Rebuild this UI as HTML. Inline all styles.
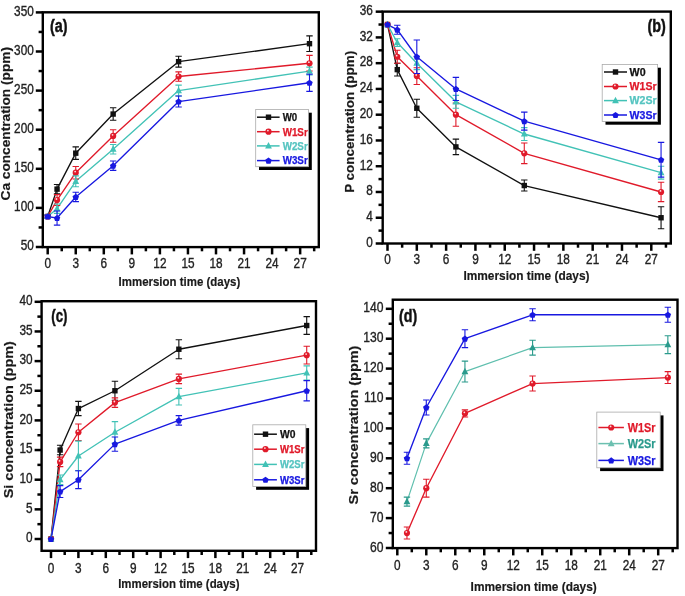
<!DOCTYPE html>
<html><head><meta charset="utf-8"><style>
html,body{margin:0;padding:0;background:#fff;}
svg{display:block;font-family:"Liberation Sans", sans-serif;filter:blur(0.3px);}
</style></head><body>
<svg width="685" height="596" viewBox="0 0 685 596">
<rect width="685" height="596" fill="#fff"/>
<polyline points="47.7,216.5 57.05,189.13 75.75,153.16 113.15,114.06 178.6,61.67 309.5,43.68" fill="none" stroke="#111111" stroke-width="1.35" stroke-linejoin="round"/>
<polyline points="47.7,216.5 57.05,200.08 75.75,172.71 113.15,135.96 178.6,76.52 309.5,63.23" fill="none" stroke="#e01a2a" stroke-width="1.35" stroke-linejoin="round"/>
<polyline points="47.7,216.5 57.05,208.68 75.75,181.31 113.15,149.25 178.6,90.6 309.5,71.05" fill="none" stroke="#42c2b6" stroke-width="1.35" stroke-linejoin="round"/>
<polyline points="47.7,216.5 57.05,218.07 75.75,196.95 113.15,165.67 178.6,101.55 309.5,82.78" fill="none" stroke="#1818e0" stroke-width="1.35" stroke-linejoin="round"/>
<path d="M47.7 214.94V218.07M44.5 214.94h6.4M44.5 218.07h6.4" stroke="#111111" stroke-width="1.1" fill="none"/>
<path d="M57.05 184.44V193.82M53.85 184.44h6.4M53.85 193.82h6.4" stroke="#111111" stroke-width="1.1" fill="none"/>
<path d="M75.75 146.9V159.42M72.55 146.9h6.4M72.55 159.42h6.4" stroke="#111111" stroke-width="1.1" fill="none"/>
<path d="M113.15 107.8V120.32M109.95 107.8h6.4M109.95 120.32h6.4" stroke="#111111" stroke-width="1.1" fill="none"/>
<path d="M178.6 56.19V67.14M175.4 56.19h6.4M175.4 67.14h6.4" stroke="#111111" stroke-width="1.1" fill="none"/>
<path d="M309.5 35.86V51.5M306.3 35.86h6.4M306.3 51.5h6.4" stroke="#111111" stroke-width="1.1" fill="none"/>
<rect x="45" y="213.8" width="5.4" height="5.4" fill="#111111"/>
<rect x="54.35" y="186.43" width="5.4" height="5.4" fill="#111111"/>
<rect x="73.05" y="150.46" width="5.4" height="5.4" fill="#111111"/>
<rect x="110.45" y="111.36" width="5.4" height="5.4" fill="#111111"/>
<rect x="175.9" y="58.97" width="5.4" height="5.4" fill="#111111"/>
<rect x="306.8" y="40.98" width="5.4" height="5.4" fill="#111111"/>
<path d="M47.7 214.94V218.07M44.5 214.94h6.4M44.5 218.07h6.4" stroke="#e01a2a" stroke-width="1.1" fill="none"/>
<path d="M57.05 194.61V205.55M53.85 194.61h6.4M53.85 205.55h6.4" stroke="#e01a2a" stroke-width="1.1" fill="none"/>
<path d="M75.75 166.45V178.97M72.55 166.45h6.4M72.55 178.97h6.4" stroke="#e01a2a" stroke-width="1.1" fill="none"/>
<path d="M113.15 129.7V142.21M109.95 129.7h6.4M109.95 142.21h6.4" stroke="#e01a2a" stroke-width="1.1" fill="none"/>
<path d="M178.6 71.83V81.22M175.4 71.83h6.4M175.4 81.22h6.4" stroke="#e01a2a" stroke-width="1.1" fill="none"/>
<path d="M309.5 55.41V71.05M306.3 55.41h6.4M306.3 71.05h6.4" stroke="#e01a2a" stroke-width="1.1" fill="none"/>
<circle cx="47.7" cy="216.5" r="3.1" fill="#e01a2a"/>
<circle cx="47.1" cy="215.4" r="0.9" fill="#fff" opacity="0.85"/>
<circle cx="57.05" cy="200.08" r="3.1" fill="#e01a2a"/>
<circle cx="56.45" cy="198.98" r="0.9" fill="#fff" opacity="0.85"/>
<circle cx="75.75" cy="172.71" r="3.1" fill="#e01a2a"/>
<circle cx="75.15" cy="171.61" r="0.9" fill="#fff" opacity="0.85"/>
<circle cx="113.15" cy="135.96" r="3.1" fill="#e01a2a"/>
<circle cx="112.55" cy="134.86" r="0.9" fill="#fff" opacity="0.85"/>
<circle cx="178.6" cy="76.52" r="3.1" fill="#e01a2a"/>
<circle cx="178" cy="75.42" r="0.9" fill="#fff" opacity="0.85"/>
<circle cx="309.5" cy="63.23" r="3.1" fill="#e01a2a"/>
<circle cx="308.9" cy="62.13" r="0.9" fill="#fff" opacity="0.85"/>
<path d="M47.7 214.94V218.07M44.5 214.94h6.4M44.5 218.07h6.4" stroke="#42c2b6" stroke-width="1.1" fill="none"/>
<path d="M57.05 203.99V213.37M53.85 203.99h6.4M53.85 213.37h6.4" stroke="#42c2b6" stroke-width="1.1" fill="none"/>
<path d="M75.75 175.84V186.79M72.55 175.84h6.4M72.55 186.79h6.4" stroke="#42c2b6" stroke-width="1.1" fill="none"/>
<path d="M113.15 144.56V153.94M109.95 144.56h6.4M109.95 153.94h6.4" stroke="#42c2b6" stroke-width="1.1" fill="none"/>
<path d="M178.6 85.13V96.07M175.4 85.13h6.4M175.4 96.07h6.4" stroke="#42c2b6" stroke-width="1.1" fill="none"/>
<path d="M309.5 67.14V74.96M306.3 67.14h6.4M306.3 74.96h6.4" stroke="#42c2b6" stroke-width="1.1" fill="none"/>
<polygon points="47.7,212.6 51.1,219.1 44.3,219.1" fill="#42c2b6"/>
<polygon points="57.05,204.78 60.45,211.28 53.65,211.28" fill="#42c2b6"/>
<polygon points="75.75,177.41 79.15,183.91 72.35,183.91" fill="#42c2b6"/>
<polygon points="113.15,145.35 116.55,151.85 109.75,151.85" fill="#42c2b6"/>
<polygon points="178.6,86.7 182,93.2 175.2,93.2" fill="#42c2b6"/>
<polygon points="309.5,67.15 312.9,73.65 306.1,73.65" fill="#42c2b6"/>
<path d="M47.7 214.94V218.07M44.5 214.94h6.4M44.5 218.07h6.4" stroke="#1818e0" stroke-width="1.1" fill="none"/>
<path d="M57.05 211.03V225.1M53.85 211.03h6.4M53.85 225.1h6.4" stroke="#1818e0" stroke-width="1.1" fill="none"/>
<path d="M75.75 192.26V201.64M72.55 192.26h6.4M72.55 201.64h6.4" stroke="#1818e0" stroke-width="1.1" fill="none"/>
<path d="M113.15 160.98V170.36M109.95 160.98h6.4M109.95 170.36h6.4" stroke="#1818e0" stroke-width="1.1" fill="none"/>
<path d="M178.6 96.07V107.02M175.4 96.07h6.4M175.4 107.02h6.4" stroke="#1818e0" stroke-width="1.1" fill="none"/>
<path d="M309.5 74.18V91.38M306.3 74.18h6.4M306.3 91.38h6.4" stroke="#1818e0" stroke-width="1.1" fill="none"/>
<polygon points="47.7,213.4 50.93,215.75 49.7,219.55 45.7,219.55 44.47,215.75" fill="#1818e0"/>
<polygon points="57.05,214.97 60.28,217.32 59.05,221.12 55.05,221.12 53.82,217.32" fill="#1818e0"/>
<polygon points="75.75,193.85 78.98,196.2 77.75,200 73.75,200 72.52,196.2" fill="#1818e0"/>
<polygon points="113.15,162.57 116.38,164.92 115.15,168.72 111.15,168.72 109.92,164.92" fill="#1818e0"/>
<polygon points="178.6,98.45 181.83,100.8 180.6,104.6 176.6,104.6 175.37,100.8" fill="#1818e0"/>
<polygon points="309.5,79.68 312.73,82.03 311.5,85.83 307.5,85.83 306.27,82.03" fill="#1818e0"/>
<rect x="42.8" y="12.3" width="276" height="234.8" fill="none" stroke="#000" stroke-width="2.4"/>
<line x1="47.7" y1="247.1" x2="47.7" y2="254.4" stroke="#000" stroke-width="2.5"/>
<text transform="translate(47.7,268.2) scale(0.82,1)" font-size="14.4" font-weight="normal" fill="#222" text-anchor="middle" stroke="#222" stroke-width="0.35">0</text>
<line x1="61.73" y1="247.1" x2="61.73" y2="251.3" stroke="#000" stroke-width="2.5"/>
<line x1="75.75" y1="247.1" x2="75.75" y2="254.4" stroke="#000" stroke-width="2.5"/>
<text transform="translate(75.75,268.2) scale(0.82,1)" font-size="14.4" font-weight="normal" fill="#222" text-anchor="middle" stroke="#222" stroke-width="0.35">3</text>
<line x1="89.78" y1="247.1" x2="89.78" y2="251.3" stroke="#000" stroke-width="2.5"/>
<line x1="103.8" y1="247.1" x2="103.8" y2="254.4" stroke="#000" stroke-width="2.5"/>
<text transform="translate(103.8,268.2) scale(0.82,1)" font-size="14.4" font-weight="normal" fill="#222" text-anchor="middle" stroke="#222" stroke-width="0.35">6</text>
<line x1="117.83" y1="247.1" x2="117.83" y2="251.3" stroke="#000" stroke-width="2.5"/>
<line x1="131.85" y1="247.1" x2="131.85" y2="254.4" stroke="#000" stroke-width="2.5"/>
<text transform="translate(131.85,268.2) scale(0.82,1)" font-size="14.4" font-weight="normal" fill="#222" text-anchor="middle" stroke="#222" stroke-width="0.35">9</text>
<line x1="145.88" y1="247.1" x2="145.88" y2="251.3" stroke="#000" stroke-width="2.5"/>
<line x1="159.9" y1="247.1" x2="159.9" y2="254.4" stroke="#000" stroke-width="2.5"/>
<text transform="translate(159.9,268.2) scale(0.82,1)" font-size="14.4" font-weight="normal" fill="#222" text-anchor="middle" stroke="#222" stroke-width="0.35">12</text>
<line x1="173.93" y1="247.1" x2="173.93" y2="251.3" stroke="#000" stroke-width="2.5"/>
<line x1="187.95" y1="247.1" x2="187.95" y2="254.4" stroke="#000" stroke-width="2.5"/>
<text transform="translate(187.95,268.2) scale(0.82,1)" font-size="14.4" font-weight="normal" fill="#222" text-anchor="middle" stroke="#222" stroke-width="0.35">15</text>
<line x1="201.98" y1="247.1" x2="201.98" y2="251.3" stroke="#000" stroke-width="2.5"/>
<line x1="216" y1="247.1" x2="216" y2="254.4" stroke="#000" stroke-width="2.5"/>
<text transform="translate(216,268.2) scale(0.82,1)" font-size="14.4" font-weight="normal" fill="#222" text-anchor="middle" stroke="#222" stroke-width="0.35">18</text>
<line x1="230.02" y1="247.1" x2="230.02" y2="251.3" stroke="#000" stroke-width="2.5"/>
<line x1="244.05" y1="247.1" x2="244.05" y2="254.4" stroke="#000" stroke-width="2.5"/>
<text transform="translate(244.05,268.2) scale(0.82,1)" font-size="14.4" font-weight="normal" fill="#222" text-anchor="middle" stroke="#222" stroke-width="0.35">21</text>
<line x1="258.07" y1="247.1" x2="258.07" y2="251.3" stroke="#000" stroke-width="2.5"/>
<line x1="272.1" y1="247.1" x2="272.1" y2="254.4" stroke="#000" stroke-width="2.5"/>
<text transform="translate(272.1,268.2) scale(0.82,1)" font-size="14.4" font-weight="normal" fill="#222" text-anchor="middle" stroke="#222" stroke-width="0.35">24</text>
<line x1="286.12" y1="247.1" x2="286.12" y2="251.3" stroke="#000" stroke-width="2.5"/>
<line x1="300.15" y1="247.1" x2="300.15" y2="254.4" stroke="#000" stroke-width="2.5"/>
<text transform="translate(300.15,268.2) scale(0.82,1)" font-size="14.4" font-weight="normal" fill="#222" text-anchor="middle" stroke="#222" stroke-width="0.35">27</text>
<line x1="314.17" y1="247.1" x2="314.17" y2="251.3" stroke="#000" stroke-width="2.5"/>
<line x1="35.8" y1="247" x2="42.8" y2="247" stroke="#000" stroke-width="2.5"/>
<text transform="translate(33.8,250.3) scale(0.82,1)" font-size="14.4" font-weight="normal" fill="#222" text-anchor="end" stroke="#222" stroke-width="0.35">50</text>
<line x1="38.6" y1="227.45" x2="42.8" y2="227.45" stroke="#000" stroke-width="2.5"/>
<line x1="35.8" y1="207.9" x2="42.8" y2="207.9" stroke="#000" stroke-width="2.5"/>
<text transform="translate(33.8,211.2) scale(0.82,1)" font-size="14.4" font-weight="normal" fill="#222" text-anchor="end" stroke="#222" stroke-width="0.35">100</text>
<line x1="38.6" y1="188.35" x2="42.8" y2="188.35" stroke="#000" stroke-width="2.5"/>
<line x1="35.8" y1="168.8" x2="42.8" y2="168.8" stroke="#000" stroke-width="2.5"/>
<text transform="translate(33.8,172.1) scale(0.82,1)" font-size="14.4" font-weight="normal" fill="#222" text-anchor="end" stroke="#222" stroke-width="0.35">150</text>
<line x1="38.6" y1="149.25" x2="42.8" y2="149.25" stroke="#000" stroke-width="2.5"/>
<line x1="35.8" y1="129.7" x2="42.8" y2="129.7" stroke="#000" stroke-width="2.5"/>
<text transform="translate(33.8,133) scale(0.82,1)" font-size="14.4" font-weight="normal" fill="#222" text-anchor="end" stroke="#222" stroke-width="0.35">200</text>
<line x1="38.6" y1="110.15" x2="42.8" y2="110.15" stroke="#000" stroke-width="2.5"/>
<line x1="35.8" y1="90.6" x2="42.8" y2="90.6" stroke="#000" stroke-width="2.5"/>
<text transform="translate(33.8,93.9) scale(0.82,1)" font-size="14.4" font-weight="normal" fill="#222" text-anchor="end" stroke="#222" stroke-width="0.35">250</text>
<line x1="38.6" y1="71.05" x2="42.8" y2="71.05" stroke="#000" stroke-width="2.5"/>
<line x1="35.8" y1="51.5" x2="42.8" y2="51.5" stroke="#000" stroke-width="2.5"/>
<text transform="translate(33.8,54.8) scale(0.82,1)" font-size="14.4" font-weight="normal" fill="#222" text-anchor="end" stroke="#222" stroke-width="0.35">300</text>
<line x1="38.6" y1="31.95" x2="42.8" y2="31.95" stroke="#000" stroke-width="2.5"/>
<line x1="35.8" y1="12.4" x2="42.8" y2="12.4" stroke="#000" stroke-width="2.5"/>
<text transform="translate(33.8,15.7) scale(0.82,1)" font-size="14.4" font-weight="normal" fill="#222" text-anchor="end" stroke="#222" stroke-width="0.35">350</text>
<text transform="translate(118.6,286.4) scale(1,1)" font-size="13.6" font-weight="bold" fill="#1a1a1a" text-anchor="start" textLength="121.6" lengthAdjust="spacingAndGlyphs" stroke="#1a1a1a" stroke-width="0.2">Immersion time (days)</text>
<text transform="translate(10.3,200.5) scale(0.88,1) rotate(-90)" font-size="13.6" font-weight="bold" fill="#1a1a1a" text-anchor="start" textLength="153.5" lengthAdjust="spacingAndGlyphs" stroke="#1a1a1a" stroke-width="0.2">Ca concentration (ppm)</text>
<text transform="translate(49.9,31.8) scale(1,1)" font-size="18" font-weight="bold" fill="#111" text-anchor="start" textLength="17.5" lengthAdjust="spacingAndGlyphs" stroke="#111" stroke-width="0.45">(a)</text>
<rect x="259" y="112.7" width="52.8" height="57.3" fill="#000"/>
<rect x="255.7" y="109.4" width="52.8" height="57.3" fill="#fff" stroke="#aaa" stroke-width="0.8"/>
<line x1="257" y1="117.2" x2="279.6" y2="117.2" stroke="#111111" stroke-width="1.5"/>
<rect x="265.8" y="114.5" width="5.4" height="5.4" fill="#111111"/>
<text transform="translate(282.7,121) scale(1,1)" font-size="10.5" font-weight="bold" fill="#111111" text-anchor="start" textLength="14.5" lengthAdjust="spacingAndGlyphs" stroke="#111111" stroke-width="0.25">W0</text>
<line x1="257" y1="131.7" x2="279.6" y2="131.7" stroke="#e01a2a" stroke-width="1.5"/>
<circle cx="268.5" cy="131.7" r="3.1" fill="#e01a2a"/>
<circle cx="267.9" cy="130.6" r="0.9" fill="#fff" opacity="0.85"/>
<text transform="translate(282.7,135.5) scale(1,1)" font-size="10.5" font-weight="bold" fill="#e01a2a" text-anchor="start" textLength="25" lengthAdjust="spacingAndGlyphs" stroke="#e01a2a" stroke-width="0.25">W1Sr</text>
<line x1="257" y1="145.9" x2="279.6" y2="145.9" stroke="#42c2b6" stroke-width="1.5"/>
<polygon points="268.5,142 271.9,148.5 265.1,148.5" fill="#42c2b6"/>
<text transform="translate(282.7,149.7) scale(1,1)" font-size="10.5" font-weight="bold" fill="#55c4c0" text-anchor="start" textLength="25" lengthAdjust="spacingAndGlyphs" stroke="#55c4c0" stroke-width="0.25">W2Sr</text>
<line x1="257" y1="160.6" x2="279.6" y2="160.6" stroke="#1818e0" stroke-width="1.5"/>
<polygon points="268.5,157.5 271.73,159.85 270.5,163.65 266.5,163.65 265.27,159.85" fill="#1818e0"/>
<text transform="translate(282.7,164.4) scale(1,1)" font-size="10.5" font-weight="bold" fill="#1818e0" text-anchor="start" textLength="25" lengthAdjust="spacingAndGlyphs" stroke="#1818e0" stroke-width="0.25">W3Sr</text>
<polyline points="387.5,24.54 397.27,69.62 416.81,108.26 455.89,146.9 524.28,185.54 661.06,217.74" fill="none" stroke="#111111" stroke-width="1.35" stroke-linejoin="round"/>
<polyline points="387.5,24.54 397.27,56.74 416.81,76.06 455.89,114.7 524.28,153.34 661.06,191.98" fill="none" stroke="#e01a2a" stroke-width="1.35" stroke-linejoin="round"/>
<polyline points="387.5,24.54 397.27,42.57 416.81,63.18 455.89,101.82 524.28,134.02 661.06,172.66" fill="none" stroke="#42c2b6" stroke-width="1.35" stroke-linejoin="round"/>
<polyline points="387.5,24.54 397.27,29.69 416.81,56.74 455.89,88.94 524.28,121.14 661.06,159.78" fill="none" stroke="#1818e0" stroke-width="1.35" stroke-linejoin="round"/>
<path d="M397.27 63.18V76.06M394.07 63.18h6.4M394.07 76.06h6.4" stroke="#111111" stroke-width="1.1" fill="none"/>
<path d="M416.81 99.24V117.28M413.61 99.24h6.4M413.61 117.28h6.4" stroke="#111111" stroke-width="1.1" fill="none"/>
<path d="M455.89 139.17V154.63M452.69 139.17h6.4M452.69 154.63h6.4" stroke="#111111" stroke-width="1.1" fill="none"/>
<path d="M524.28 180.07V191.01M521.08 180.07h6.4M521.08 191.01h6.4" stroke="#111111" stroke-width="1.1" fill="none"/>
<path d="M661.06 206.79V228.69M657.86 206.79h6.4M657.86 228.69h6.4" stroke="#111111" stroke-width="1.1" fill="none"/>
<rect x="384.8" y="21.84" width="5.4" height="5.4" fill="#111111"/>
<rect x="394.57" y="66.92" width="5.4" height="5.4" fill="#111111"/>
<rect x="414.11" y="105.56" width="5.4" height="5.4" fill="#111111"/>
<rect x="453.19" y="144.2" width="5.4" height="5.4" fill="#111111"/>
<rect x="521.58" y="182.84" width="5.4" height="5.4" fill="#111111"/>
<rect x="658.36" y="215.04" width="5.4" height="5.4" fill="#111111"/>
<path d="M397.27 50.3V63.18M394.07 50.3h6.4M394.07 63.18h6.4" stroke="#e01a2a" stroke-width="1.1" fill="none"/>
<path d="M416.81 67.69V84.43M413.61 67.69h6.4M413.61 84.43h6.4" stroke="#e01a2a" stroke-width="1.1" fill="none"/>
<path d="M455.89 103.11V126.29M452.69 103.11h6.4M452.69 126.29h6.4" stroke="#e01a2a" stroke-width="1.1" fill="none"/>
<path d="M524.28 143.04V163.64M521.08 143.04h6.4M521.08 163.64h6.4" stroke="#e01a2a" stroke-width="1.1" fill="none"/>
<path d="M661.06 182.32V201.64M657.86 182.32h6.4M657.86 201.64h6.4" stroke="#e01a2a" stroke-width="1.1" fill="none"/>
<circle cx="387.5" cy="24.54" r="3.1" fill="#e01a2a"/>
<circle cx="386.9" cy="23.44" r="0.9" fill="#fff" opacity="0.85"/>
<circle cx="397.27" cy="56.74" r="3.1" fill="#e01a2a"/>
<circle cx="396.67" cy="55.64" r="0.9" fill="#fff" opacity="0.85"/>
<circle cx="416.81" cy="76.06" r="3.1" fill="#e01a2a"/>
<circle cx="416.21" cy="74.96" r="0.9" fill="#fff" opacity="0.85"/>
<circle cx="455.89" cy="114.7" r="3.1" fill="#e01a2a"/>
<circle cx="455.29" cy="113.6" r="0.9" fill="#fff" opacity="0.85"/>
<circle cx="524.28" cy="153.34" r="3.1" fill="#e01a2a"/>
<circle cx="523.68" cy="152.24" r="0.9" fill="#fff" opacity="0.85"/>
<circle cx="661.06" cy="191.98" r="3.1" fill="#e01a2a"/>
<circle cx="660.46" cy="190.88" r="0.9" fill="#fff" opacity="0.85"/>
<path d="M397.27 38.71V46.44M394.07 38.71h6.4M394.07 46.44h6.4" stroke="#42c2b6" stroke-width="1.1" fill="none"/>
<path d="M416.81 56.74V69.62M413.61 56.74h6.4M413.61 69.62h6.4" stroke="#42c2b6" stroke-width="1.1" fill="none"/>
<path d="M455.89 95.38V108.26M452.69 95.38h6.4M452.69 108.26h6.4" stroke="#42c2b6" stroke-width="1.1" fill="none"/>
<path d="M524.28 127.58V140.46M521.08 127.58h6.4M521.08 140.46h6.4" stroke="#42c2b6" stroke-width="1.1" fill="none"/>
<path d="M661.06 166.22V179.1M657.86 166.22h6.4M657.86 179.1h6.4" stroke="#42c2b6" stroke-width="1.1" fill="none"/>
<polygon points="387.5,20.64 390.9,27.14 384.1,27.14" fill="#42c2b6"/>
<polygon points="397.27,38.67 400.67,45.17 393.87,45.17" fill="#42c2b6"/>
<polygon points="416.81,59.28 420.21,65.78 413.41,65.78" fill="#42c2b6"/>
<polygon points="455.89,97.92 459.29,104.42 452.49,104.42" fill="#42c2b6"/>
<polygon points="524.28,130.12 527.68,136.62 520.88,136.62" fill="#42c2b6"/>
<polygon points="661.06,168.76 664.46,175.26 657.66,175.26" fill="#42c2b6"/>
<path d="M397.27 25.18V34.2M394.07 25.18h6.4M394.07 34.2h6.4" stroke="#1818e0" stroke-width="1.1" fill="none"/>
<path d="M416.81 40V73.48M413.61 40h6.4M413.61 73.48h6.4" stroke="#1818e0" stroke-width="1.1" fill="none"/>
<path d="M455.89 77.35V100.53M452.69 77.35h6.4M452.69 100.53h6.4" stroke="#1818e0" stroke-width="1.1" fill="none"/>
<path d="M524.28 112.12V130.16M521.08 112.12h6.4M521.08 130.16h6.4" stroke="#1818e0" stroke-width="1.1" fill="none"/>
<path d="M661.06 142.39V177.17M657.86 142.39h6.4M657.86 177.17h6.4" stroke="#1818e0" stroke-width="1.1" fill="none"/>
<polygon points="387.5,21.44 390.73,23.79 389.5,27.59 385.5,27.59 384.27,23.79" fill="#1818e0"/>
<polygon points="397.27,26.59 400.5,28.94 399.27,32.74 395.27,32.74 394.04,28.94" fill="#1818e0"/>
<polygon points="416.81,53.64 420.04,55.99 418.81,59.79 414.81,59.79 413.58,55.99" fill="#1818e0"/>
<polygon points="455.89,85.84 459.12,88.19 457.89,91.99 453.89,91.99 452.66,88.19" fill="#1818e0"/>
<polygon points="524.28,118.04 527.51,120.39 526.28,124.19 522.28,124.19 521.05,120.39" fill="#1818e0"/>
<polygon points="661.06,156.68 664.29,159.03 663.06,162.83 659.06,162.83 657.83,159.03" fill="#1818e0"/>
<rect x="382.7" y="11.6" width="288.1" height="231.9" fill="none" stroke="#000" stroke-width="2.4"/>
<line x1="387.5" y1="243.5" x2="387.5" y2="250.8" stroke="#000" stroke-width="2.5"/>
<text transform="translate(387.5,264) scale(0.82,1)" font-size="14.4" font-weight="normal" fill="#222" text-anchor="middle" stroke="#222" stroke-width="0.35">0</text>
<line x1="402.15" y1="243.5" x2="402.15" y2="247.7" stroke="#000" stroke-width="2.5"/>
<line x1="416.81" y1="243.5" x2="416.81" y2="250.8" stroke="#000" stroke-width="2.5"/>
<text transform="translate(416.81,264) scale(0.82,1)" font-size="14.4" font-weight="normal" fill="#222" text-anchor="middle" stroke="#222" stroke-width="0.35">3</text>
<line x1="431.46" y1="243.5" x2="431.46" y2="247.7" stroke="#000" stroke-width="2.5"/>
<line x1="446.12" y1="243.5" x2="446.12" y2="250.8" stroke="#000" stroke-width="2.5"/>
<text transform="translate(446.12,264) scale(0.82,1)" font-size="14.4" font-weight="normal" fill="#222" text-anchor="middle" stroke="#222" stroke-width="0.35">6</text>
<line x1="460.77" y1="243.5" x2="460.77" y2="247.7" stroke="#000" stroke-width="2.5"/>
<line x1="475.43" y1="243.5" x2="475.43" y2="250.8" stroke="#000" stroke-width="2.5"/>
<text transform="translate(475.43,264) scale(0.82,1)" font-size="14.4" font-weight="normal" fill="#222" text-anchor="middle" stroke="#222" stroke-width="0.35">9</text>
<line x1="490.08" y1="243.5" x2="490.08" y2="247.7" stroke="#000" stroke-width="2.5"/>
<line x1="504.74" y1="243.5" x2="504.74" y2="250.8" stroke="#000" stroke-width="2.5"/>
<text transform="translate(504.74,264) scale(0.82,1)" font-size="14.4" font-weight="normal" fill="#222" text-anchor="middle" stroke="#222" stroke-width="0.35">12</text>
<line x1="519.39" y1="243.5" x2="519.39" y2="247.7" stroke="#000" stroke-width="2.5"/>
<line x1="534.05" y1="243.5" x2="534.05" y2="250.8" stroke="#000" stroke-width="2.5"/>
<text transform="translate(534.05,264) scale(0.82,1)" font-size="14.4" font-weight="normal" fill="#222" text-anchor="middle" stroke="#222" stroke-width="0.35">15</text>
<line x1="548.7" y1="243.5" x2="548.7" y2="247.7" stroke="#000" stroke-width="2.5"/>
<line x1="563.36" y1="243.5" x2="563.36" y2="250.8" stroke="#000" stroke-width="2.5"/>
<text transform="translate(563.36,264) scale(0.82,1)" font-size="14.4" font-weight="normal" fill="#222" text-anchor="middle" stroke="#222" stroke-width="0.35">18</text>
<line x1="578.01" y1="243.5" x2="578.01" y2="247.7" stroke="#000" stroke-width="2.5"/>
<line x1="592.67" y1="243.5" x2="592.67" y2="250.8" stroke="#000" stroke-width="2.5"/>
<text transform="translate(592.67,264) scale(0.82,1)" font-size="14.4" font-weight="normal" fill="#222" text-anchor="middle" stroke="#222" stroke-width="0.35">21</text>
<line x1="607.33" y1="243.5" x2="607.33" y2="247.7" stroke="#000" stroke-width="2.5"/>
<line x1="621.98" y1="243.5" x2="621.98" y2="250.8" stroke="#000" stroke-width="2.5"/>
<text transform="translate(621.98,264) scale(0.82,1)" font-size="14.4" font-weight="normal" fill="#222" text-anchor="middle" stroke="#222" stroke-width="0.35">24</text>
<line x1="636.63" y1="243.5" x2="636.63" y2="247.7" stroke="#000" stroke-width="2.5"/>
<line x1="651.29" y1="243.5" x2="651.29" y2="250.8" stroke="#000" stroke-width="2.5"/>
<text transform="translate(651.29,264) scale(0.82,1)" font-size="14.4" font-weight="normal" fill="#222" text-anchor="middle" stroke="#222" stroke-width="0.35">27</text>
<line x1="665.94" y1="243.5" x2="665.94" y2="247.7" stroke="#000" stroke-width="2.5"/>
<line x1="375.7" y1="243.5" x2="382.7" y2="243.5" stroke="#000" stroke-width="2.5"/>
<text transform="translate(372.9,246.8) scale(0.82,1)" font-size="14.4" font-weight="normal" fill="#222" text-anchor="end" stroke="#222" stroke-width="0.35">0</text>
<line x1="378.5" y1="230.62" x2="382.7" y2="230.62" stroke="#000" stroke-width="2.5"/>
<line x1="375.7" y1="217.74" x2="382.7" y2="217.74" stroke="#000" stroke-width="2.5"/>
<text transform="translate(372.9,221.04) scale(0.82,1)" font-size="14.4" font-weight="normal" fill="#222" text-anchor="end" stroke="#222" stroke-width="0.35">4</text>
<line x1="378.5" y1="204.86" x2="382.7" y2="204.86" stroke="#000" stroke-width="2.5"/>
<line x1="375.7" y1="191.98" x2="382.7" y2="191.98" stroke="#000" stroke-width="2.5"/>
<text transform="translate(372.9,195.28) scale(0.82,1)" font-size="14.4" font-weight="normal" fill="#222" text-anchor="end" stroke="#222" stroke-width="0.35">8</text>
<line x1="378.5" y1="179.1" x2="382.7" y2="179.1" stroke="#000" stroke-width="2.5"/>
<line x1="375.7" y1="166.22" x2="382.7" y2="166.22" stroke="#000" stroke-width="2.5"/>
<text transform="translate(372.9,169.52) scale(0.82,1)" font-size="14.4" font-weight="normal" fill="#222" text-anchor="end" stroke="#222" stroke-width="0.35">12</text>
<line x1="378.5" y1="153.34" x2="382.7" y2="153.34" stroke="#000" stroke-width="2.5"/>
<line x1="375.7" y1="140.46" x2="382.7" y2="140.46" stroke="#000" stroke-width="2.5"/>
<text transform="translate(372.9,143.76) scale(0.82,1)" font-size="14.4" font-weight="normal" fill="#222" text-anchor="end" stroke="#222" stroke-width="0.35">16</text>
<line x1="378.5" y1="127.58" x2="382.7" y2="127.58" stroke="#000" stroke-width="2.5"/>
<line x1="375.7" y1="114.7" x2="382.7" y2="114.7" stroke="#000" stroke-width="2.5"/>
<text transform="translate(372.9,118) scale(0.82,1)" font-size="14.4" font-weight="normal" fill="#222" text-anchor="end" stroke="#222" stroke-width="0.35">20</text>
<line x1="378.5" y1="101.82" x2="382.7" y2="101.82" stroke="#000" stroke-width="2.5"/>
<line x1="375.7" y1="88.94" x2="382.7" y2="88.94" stroke="#000" stroke-width="2.5"/>
<text transform="translate(372.9,92.24) scale(0.82,1)" font-size="14.4" font-weight="normal" fill="#222" text-anchor="end" stroke="#222" stroke-width="0.35">24</text>
<line x1="378.5" y1="76.06" x2="382.7" y2="76.06" stroke="#000" stroke-width="2.5"/>
<line x1="375.7" y1="63.18" x2="382.7" y2="63.18" stroke="#000" stroke-width="2.5"/>
<text transform="translate(372.9,66.48) scale(0.82,1)" font-size="14.4" font-weight="normal" fill="#222" text-anchor="end" stroke="#222" stroke-width="0.35">28</text>
<line x1="378.5" y1="50.3" x2="382.7" y2="50.3" stroke="#000" stroke-width="2.5"/>
<line x1="375.7" y1="37.42" x2="382.7" y2="37.42" stroke="#000" stroke-width="2.5"/>
<text transform="translate(372.9,40.72) scale(0.82,1)" font-size="14.4" font-weight="normal" fill="#222" text-anchor="end" stroke="#222" stroke-width="0.35">32</text>
<line x1="378.5" y1="24.54" x2="382.7" y2="24.54" stroke="#000" stroke-width="2.5"/>
<line x1="375.7" y1="11.66" x2="382.7" y2="11.66" stroke="#000" stroke-width="2.5"/>
<text transform="translate(372.9,14.96) scale(0.82,1)" font-size="14.4" font-weight="normal" fill="#222" text-anchor="end" stroke="#222" stroke-width="0.35">36</text>
<text transform="translate(463.4,279.9) scale(1,1)" font-size="13.6" font-weight="bold" fill="#1a1a1a" text-anchor="start" textLength="126.1" lengthAdjust="spacingAndGlyphs" stroke="#1a1a1a" stroke-width="0.2">Immersion time (days)</text>
<text transform="translate(353.6,192.8) scale(0.88,1) rotate(-90)" font-size="13.6" font-weight="bold" fill="#1a1a1a" text-anchor="start" textLength="141.9" lengthAdjust="spacingAndGlyphs" stroke="#1a1a1a" stroke-width="0.2">P concentration (ppm)</text>
<text transform="translate(647.4,32.4) scale(1,1)" font-size="18" font-weight="bold" fill="#111" text-anchor="start" textLength="18.4" lengthAdjust="spacingAndGlyphs" stroke="#111" stroke-width="0.45">(b)</text>
<rect x="605.5" y="67.7" width="55.4" height="57" fill="#000"/>
<rect x="602.2" y="64.4" width="55.4" height="57" fill="#fff" stroke="#aaa" stroke-width="0.8"/>
<line x1="604" y1="72" x2="627" y2="72" stroke="#111111" stroke-width="1.5"/>
<rect x="612.8" y="69.3" width="5.4" height="5.4" fill="#111111"/>
<text transform="translate(629.6,75.8) scale(1,1)" font-size="10.5" font-weight="bold" fill="#111111" text-anchor="start" textLength="16" lengthAdjust="spacingAndGlyphs" stroke="#111111" stroke-width="0.25">W0</text>
<line x1="604" y1="86.5" x2="627" y2="86.5" stroke="#e01a2a" stroke-width="1.5"/>
<circle cx="615.5" cy="86.5" r="3.1" fill="#e01a2a"/>
<circle cx="614.9" cy="85.4" r="0.9" fill="#fff" opacity="0.85"/>
<text transform="translate(629.6,90.3) scale(1,1)" font-size="10.5" font-weight="bold" fill="#e01a2a" text-anchor="start" textLength="27" lengthAdjust="spacingAndGlyphs" stroke="#e01a2a" stroke-width="0.25">W1Sr</text>
<line x1="604" y1="100.6" x2="627" y2="100.6" stroke="#42c2b6" stroke-width="1.5"/>
<polygon points="615.5,96.7 618.9,103.2 612.1,103.2" fill="#42c2b6"/>
<text transform="translate(629.6,104.4) scale(1,1)" font-size="10.5" font-weight="bold" fill="#55c4c0" text-anchor="start" textLength="27" lengthAdjust="spacingAndGlyphs" stroke="#55c4c0" stroke-width="0.25">W2Sr</text>
<line x1="604" y1="115" x2="627" y2="115" stroke="#1818e0" stroke-width="1.5"/>
<polygon points="615.5,111.9 618.73,114.25 617.5,118.05 613.5,118.05 612.27,114.25" fill="#1818e0"/>
<text transform="translate(629.6,118.8) scale(1,1)" font-size="10.5" font-weight="bold" fill="#1818e0" text-anchor="start" textLength="27" lengthAdjust="spacingAndGlyphs" stroke="#1818e0" stroke-width="0.25">W3Sr</text>
<polyline points="51,539 60.13,450.05 78.4,408.54 114.93,390.75 178.86,349.24 306.72,325.52" fill="none" stroke="#111111" stroke-width="1.35" stroke-linejoin="round"/>
<polyline points="51,539 60.13,461.91 78.4,432.26 114.93,402.61 178.86,378.89 306.72,355.17" fill="none" stroke="#e01a2a" stroke-width="1.35" stroke-linejoin="round"/>
<polyline points="51,539 60.13,479.7 78.4,455.98 114.93,432.26 178.86,396.68 306.72,372.96" fill="none" stroke="#42c2b6" stroke-width="1.35" stroke-linejoin="round"/>
<polyline points="51,539 60.13,491.56 78.4,479.7 114.93,444.12 178.86,420.4 306.72,390.75" fill="none" stroke="#1818e0" stroke-width="1.35" stroke-linejoin="round"/>
<path d="M60.13 445.31V454.79M56.93 445.31h6.4M56.93 454.79h6.4" stroke="#111111" stroke-width="1.1" fill="none"/>
<path d="M78.4 401.42V415.66M75.2 401.42h6.4M75.2 415.66h6.4" stroke="#111111" stroke-width="1.1" fill="none"/>
<path d="M114.93 381.26V400.24M111.73 381.26h6.4M111.73 400.24h6.4" stroke="#111111" stroke-width="1.1" fill="none"/>
<path d="M178.86 339.75V358.73M175.66 339.75h6.4M175.66 358.73h6.4" stroke="#111111" stroke-width="1.1" fill="none"/>
<path d="M306.72 316.62V334.42M303.52 316.62h6.4M303.52 334.42h6.4" stroke="#111111" stroke-width="1.1" fill="none"/>
<rect x="48.3" y="536.3" width="5.4" height="5.4" fill="#111111"/>
<rect x="57.43" y="447.35" width="5.4" height="5.4" fill="#111111"/>
<rect x="75.7" y="405.84" width="5.4" height="5.4" fill="#111111"/>
<rect x="112.23" y="388.05" width="5.4" height="5.4" fill="#111111"/>
<rect x="176.16" y="346.54" width="5.4" height="5.4" fill="#111111"/>
<rect x="304.02" y="322.82" width="5.4" height="5.4" fill="#111111"/>
<path d="M60.13 457.17V466.65M56.93 457.17h6.4M56.93 466.65h6.4" stroke="#e01a2a" stroke-width="1.1" fill="none"/>
<path d="M78.4 423.96V440.56M75.2 423.96h6.4M75.2 440.56h6.4" stroke="#e01a2a" stroke-width="1.1" fill="none"/>
<path d="M114.93 397.87V407.35M111.73 397.87h6.4M111.73 407.35h6.4" stroke="#e01a2a" stroke-width="1.1" fill="none"/>
<path d="M178.86 374.15V383.63M175.66 374.15h6.4M175.66 383.63h6.4" stroke="#e01a2a" stroke-width="1.1" fill="none"/>
<path d="M306.72 346.27V364.06M303.52 346.27h6.4M303.52 364.06h6.4" stroke="#e01a2a" stroke-width="1.1" fill="none"/>
<circle cx="51" cy="539" r="3.1" fill="#e01a2a"/>
<circle cx="50.4" cy="537.9" r="0.9" fill="#fff" opacity="0.85"/>
<circle cx="60.13" cy="461.91" r="3.1" fill="#e01a2a"/>
<circle cx="59.53" cy="460.81" r="0.9" fill="#fff" opacity="0.85"/>
<circle cx="78.4" cy="432.26" r="3.1" fill="#e01a2a"/>
<circle cx="77.8" cy="431.16" r="0.9" fill="#fff" opacity="0.85"/>
<circle cx="114.93" cy="402.61" r="3.1" fill="#e01a2a"/>
<circle cx="114.33" cy="401.51" r="0.9" fill="#fff" opacity="0.85"/>
<circle cx="178.86" cy="378.89" r="3.1" fill="#e01a2a"/>
<circle cx="178.26" cy="377.79" r="0.9" fill="#fff" opacity="0.85"/>
<circle cx="306.72" cy="355.17" r="3.1" fill="#e01a2a"/>
<circle cx="306.12" cy="354.07" r="0.9" fill="#fff" opacity="0.85"/>
<path d="M60.13 474.96V484.44M56.93 474.96h6.4M56.93 484.44h6.4" stroke="#42c2b6" stroke-width="1.1" fill="none"/>
<path d="M78.4 441.15V470.81M75.2 441.15h6.4M75.2 470.81h6.4" stroke="#42c2b6" stroke-width="1.1" fill="none"/>
<path d="M114.93 421.59V442.93M111.73 421.59h6.4M111.73 442.93h6.4" stroke="#42c2b6" stroke-width="1.1" fill="none"/>
<path d="M178.86 388.38V404.98M175.66 388.38h6.4M175.66 404.98h6.4" stroke="#42c2b6" stroke-width="1.1" fill="none"/>
<path d="M306.72 365.84V380.08M303.52 365.84h6.4M303.52 380.08h6.4" stroke="#42c2b6" stroke-width="1.1" fill="none"/>
<polygon points="51,535.1 54.4,541.6 47.6,541.6" fill="#42c2b6"/>
<polygon points="60.13,475.8 63.53,482.3 56.73,482.3" fill="#42c2b6"/>
<polygon points="78.4,452.08 81.8,458.58 75,458.58" fill="#42c2b6"/>
<polygon points="114.93,428.36 118.33,434.86 111.53,434.86" fill="#42c2b6"/>
<polygon points="178.86,392.78 182.26,399.28 175.46,399.28" fill="#42c2b6"/>
<polygon points="306.72,369.06 310.12,375.56 303.32,375.56" fill="#42c2b6"/>
<path d="M60.13 485.63V497.49M56.93 485.63h6.4M56.93 497.49h6.4" stroke="#1818e0" stroke-width="1.1" fill="none"/>
<path d="M78.4 470.81V488.6M75.2 470.81h6.4M75.2 488.6h6.4" stroke="#1818e0" stroke-width="1.1" fill="none"/>
<path d="M114.93 437V451.24M111.73 437h6.4M111.73 451.24h6.4" stroke="#1818e0" stroke-width="1.1" fill="none"/>
<path d="M178.86 415.66V425.14M175.66 415.66h6.4M175.66 425.14h6.4" stroke="#1818e0" stroke-width="1.1" fill="none"/>
<path d="M306.72 380.67V400.83M303.52 380.67h6.4M303.52 400.83h6.4" stroke="#1818e0" stroke-width="1.1" fill="none"/>
<polygon points="51,535.9 54.23,538.25 53,542.05 49,542.05 47.77,538.25" fill="#1818e0"/>
<polygon points="60.13,488.46 63.37,490.81 62.13,494.61 58.13,494.61 56.9,490.81" fill="#1818e0"/>
<polygon points="78.4,476.6 81.63,478.95 80.4,482.75 76.4,482.75 75.17,478.95" fill="#1818e0"/>
<polygon points="114.93,441.02 118.16,443.37 116.93,447.17 112.93,447.17 111.7,443.37" fill="#1818e0"/>
<polygon points="178.86,417.3 182.1,419.65 180.86,423.45 176.86,423.45 175.63,419.65" fill="#1818e0"/>
<polygon points="306.72,387.65 309.96,390 308.72,393.8 304.73,393.8 303.49,390" fill="#1818e0"/>
<rect x="41.6" y="301.2" width="274.4" height="249.6" fill="none" stroke="#000" stroke-width="2.4"/>
<line x1="51" y1="550.8" x2="51" y2="558.1" stroke="#000" stroke-width="2.5"/>
<text transform="translate(51,573) scale(0.82,1)" font-size="14.4" font-weight="normal" fill="#222" text-anchor="middle" stroke="#222" stroke-width="0.35">0</text>
<line x1="64.7" y1="550.8" x2="64.7" y2="555" stroke="#000" stroke-width="2.5"/>
<line x1="78.4" y1="550.8" x2="78.4" y2="558.1" stroke="#000" stroke-width="2.5"/>
<text transform="translate(78.4,573) scale(0.82,1)" font-size="14.4" font-weight="normal" fill="#222" text-anchor="middle" stroke="#222" stroke-width="0.35">3</text>
<line x1="92.1" y1="550.8" x2="92.1" y2="555" stroke="#000" stroke-width="2.5"/>
<line x1="105.8" y1="550.8" x2="105.8" y2="558.1" stroke="#000" stroke-width="2.5"/>
<text transform="translate(105.8,573) scale(0.82,1)" font-size="14.4" font-weight="normal" fill="#222" text-anchor="middle" stroke="#222" stroke-width="0.35">6</text>
<line x1="119.5" y1="550.8" x2="119.5" y2="555" stroke="#000" stroke-width="2.5"/>
<line x1="133.2" y1="550.8" x2="133.2" y2="558.1" stroke="#000" stroke-width="2.5"/>
<text transform="translate(133.2,573) scale(0.82,1)" font-size="14.4" font-weight="normal" fill="#222" text-anchor="middle" stroke="#222" stroke-width="0.35">9</text>
<line x1="146.9" y1="550.8" x2="146.9" y2="555" stroke="#000" stroke-width="2.5"/>
<line x1="160.6" y1="550.8" x2="160.6" y2="558.1" stroke="#000" stroke-width="2.5"/>
<text transform="translate(160.6,573) scale(0.82,1)" font-size="14.4" font-weight="normal" fill="#222" text-anchor="middle" stroke="#222" stroke-width="0.35">12</text>
<line x1="174.3" y1="550.8" x2="174.3" y2="555" stroke="#000" stroke-width="2.5"/>
<line x1="187.99" y1="550.8" x2="187.99" y2="558.1" stroke="#000" stroke-width="2.5"/>
<text transform="translate(187.99,573) scale(0.82,1)" font-size="14.4" font-weight="normal" fill="#222" text-anchor="middle" stroke="#222" stroke-width="0.35">15</text>
<line x1="201.69" y1="550.8" x2="201.69" y2="555" stroke="#000" stroke-width="2.5"/>
<line x1="215.39" y1="550.8" x2="215.39" y2="558.1" stroke="#000" stroke-width="2.5"/>
<text transform="translate(215.39,573) scale(0.82,1)" font-size="14.4" font-weight="normal" fill="#222" text-anchor="middle" stroke="#222" stroke-width="0.35">18</text>
<line x1="229.09" y1="550.8" x2="229.09" y2="555" stroke="#000" stroke-width="2.5"/>
<line x1="242.79" y1="550.8" x2="242.79" y2="558.1" stroke="#000" stroke-width="2.5"/>
<text transform="translate(242.79,573) scale(0.82,1)" font-size="14.4" font-weight="normal" fill="#222" text-anchor="middle" stroke="#222" stroke-width="0.35">21</text>
<line x1="256.49" y1="550.8" x2="256.49" y2="555" stroke="#000" stroke-width="2.5"/>
<line x1="270.19" y1="550.8" x2="270.19" y2="558.1" stroke="#000" stroke-width="2.5"/>
<text transform="translate(270.19,573) scale(0.82,1)" font-size="14.4" font-weight="normal" fill="#222" text-anchor="middle" stroke="#222" stroke-width="0.35">24</text>
<line x1="283.89" y1="550.8" x2="283.89" y2="555" stroke="#000" stroke-width="2.5"/>
<line x1="297.59" y1="550.8" x2="297.59" y2="558.1" stroke="#000" stroke-width="2.5"/>
<text transform="translate(297.59,573) scale(0.82,1)" font-size="14.4" font-weight="normal" fill="#222" text-anchor="middle" stroke="#222" stroke-width="0.35">27</text>
<line x1="311.29" y1="550.8" x2="311.29" y2="555" stroke="#000" stroke-width="2.5"/>
<line x1="34.6" y1="539" x2="41.6" y2="539" stroke="#000" stroke-width="2.5"/>
<text transform="translate(32.6,542.3) scale(0.82,1)" font-size="14.4" font-weight="normal" fill="#222" text-anchor="end" stroke="#222" stroke-width="0.35">0</text>
<line x1="37.4" y1="524.17" x2="41.6" y2="524.17" stroke="#000" stroke-width="2.5"/>
<line x1="34.6" y1="509.35" x2="41.6" y2="509.35" stroke="#000" stroke-width="2.5"/>
<text transform="translate(32.6,512.65) scale(0.82,1)" font-size="14.4" font-weight="normal" fill="#222" text-anchor="end" stroke="#222" stroke-width="0.35">5</text>
<line x1="37.4" y1="494.52" x2="41.6" y2="494.52" stroke="#000" stroke-width="2.5"/>
<line x1="34.6" y1="479.7" x2="41.6" y2="479.7" stroke="#000" stroke-width="2.5"/>
<text transform="translate(32.6,483) scale(0.82,1)" font-size="14.4" font-weight="normal" fill="#222" text-anchor="end" stroke="#222" stroke-width="0.35">10</text>
<line x1="37.4" y1="464.88" x2="41.6" y2="464.88" stroke="#000" stroke-width="2.5"/>
<line x1="34.6" y1="450.05" x2="41.6" y2="450.05" stroke="#000" stroke-width="2.5"/>
<text transform="translate(32.6,453.35) scale(0.82,1)" font-size="14.4" font-weight="normal" fill="#222" text-anchor="end" stroke="#222" stroke-width="0.35">15</text>
<line x1="37.4" y1="435.23" x2="41.6" y2="435.23" stroke="#000" stroke-width="2.5"/>
<line x1="34.6" y1="420.4" x2="41.6" y2="420.4" stroke="#000" stroke-width="2.5"/>
<text transform="translate(32.6,423.7) scale(0.82,1)" font-size="14.4" font-weight="normal" fill="#222" text-anchor="end" stroke="#222" stroke-width="0.35">20</text>
<line x1="37.4" y1="405.58" x2="41.6" y2="405.58" stroke="#000" stroke-width="2.5"/>
<line x1="34.6" y1="390.75" x2="41.6" y2="390.75" stroke="#000" stroke-width="2.5"/>
<text transform="translate(32.6,394.05) scale(0.82,1)" font-size="14.4" font-weight="normal" fill="#222" text-anchor="end" stroke="#222" stroke-width="0.35">25</text>
<line x1="37.4" y1="375.93" x2="41.6" y2="375.93" stroke="#000" stroke-width="2.5"/>
<line x1="34.6" y1="361.1" x2="41.6" y2="361.1" stroke="#000" stroke-width="2.5"/>
<text transform="translate(32.6,364.4) scale(0.82,1)" font-size="14.4" font-weight="normal" fill="#222" text-anchor="end" stroke="#222" stroke-width="0.35">30</text>
<line x1="37.4" y1="346.27" x2="41.6" y2="346.27" stroke="#000" stroke-width="2.5"/>
<line x1="34.6" y1="331.45" x2="41.6" y2="331.45" stroke="#000" stroke-width="2.5"/>
<text transform="translate(32.6,334.75) scale(0.82,1)" font-size="14.4" font-weight="normal" fill="#222" text-anchor="end" stroke="#222" stroke-width="0.35">35</text>
<line x1="37.4" y1="316.62" x2="41.6" y2="316.62" stroke="#000" stroke-width="2.5"/>
<line x1="34.6" y1="301.8" x2="41.6" y2="301.8" stroke="#000" stroke-width="2.5"/>
<text transform="translate(32.6,305.1) scale(0.82,1)" font-size="14.4" font-weight="normal" fill="#222" text-anchor="end" stroke="#222" stroke-width="0.35">40</text>
<text transform="translate(118.2,587.7) scale(1,1)" font-size="13.6" font-weight="bold" fill="#1a1a1a" text-anchor="start" textLength="121.3" lengthAdjust="spacingAndGlyphs" stroke="#1a1a1a" stroke-width="0.2">Immersion time (days)</text>
<text transform="translate(13.1,498.3) scale(0.88,1) rotate(-90)" font-size="13.6" font-weight="bold" fill="#1a1a1a" text-anchor="start" textLength="157.2" lengthAdjust="spacingAndGlyphs" stroke="#1a1a1a" stroke-width="0.2">Si concentration (ppm)</text>
<text transform="translate(51.3,321.6) scale(1,1)" font-size="18" font-weight="bold" fill="#111" text-anchor="start" textLength="16.2" lengthAdjust="spacingAndGlyphs" stroke="#111" stroke-width="0.45">(c)</text>
<rect x="256.1" y="428.1" width="53" height="61.7" fill="#000"/>
<rect x="252.8" y="424.8" width="53" height="61.7" fill="#fff" stroke="#aaa" stroke-width="0.8"/>
<line x1="254.1" y1="434.2" x2="276.9" y2="434.2" stroke="#111111" stroke-width="1.5"/>
<rect x="262.8" y="431.5" width="5.4" height="5.4" fill="#111111"/>
<text transform="translate(279.9,438) scale(1,1)" font-size="10.5" font-weight="bold" fill="#111111" text-anchor="start" textLength="15.5" lengthAdjust="spacingAndGlyphs" stroke="#111111" stroke-width="0.25">W0</text>
<line x1="254.1" y1="449.2" x2="276.9" y2="449.2" stroke="#e01a2a" stroke-width="1.5"/>
<circle cx="265.5" cy="449.2" r="3.1" fill="#e01a2a"/>
<circle cx="264.9" cy="448.1" r="0.9" fill="#fff" opacity="0.85"/>
<text transform="translate(279.9,453) scale(1,1)" font-size="10.5" font-weight="bold" fill="#e01a2a" text-anchor="start" textLength="24.5" lengthAdjust="spacingAndGlyphs" stroke="#e01a2a" stroke-width="0.25">W1Sr</text>
<line x1="254.1" y1="464.4" x2="276.9" y2="464.4" stroke="#42c2b6" stroke-width="1.5"/>
<polygon points="265.5,460.5 268.9,467 262.1,467" fill="#42c2b6"/>
<text transform="translate(279.9,468.2) scale(1,1)" font-size="10.5" font-weight="bold" fill="#55c4c0" text-anchor="start" textLength="24.5" lengthAdjust="spacingAndGlyphs" stroke="#55c4c0" stroke-width="0.25">W2Sr</text>
<line x1="254.1" y1="479.8" x2="276.9" y2="479.8" stroke="#1818e0" stroke-width="1.5"/>
<polygon points="265.5,476.7 268.73,479.05 267.5,482.85 263.5,482.85 262.27,479.05" fill="#1818e0"/>
<text transform="translate(279.9,483.6) scale(1,1)" font-size="10.5" font-weight="bold" fill="#1818e0" text-anchor="start" textLength="24.5" lengthAdjust="spacingAndGlyphs" stroke="#1818e0" stroke-width="0.25">W3Sr</text>
<polyline points="406.96,533.05 426.29,488.2 464.94,413.45 532.58,383.55 667.86,377.57" fill="none" stroke="#e01a2a" stroke-width="1.35" stroke-linejoin="round"/>
<polyline points="406.96,501.65 426.29,443.35 464.94,371.59 532.58,347.67 667.86,344.68" fill="none" stroke="#5fbfae" stroke-width="1.2" stroke-linejoin="round"/>
<polyline points="406.96,458.3 426.29,407.47 464.94,338.7 532.58,314.78 667.86,314.78" fill="none" stroke="#1818e0" stroke-width="1.35" stroke-linejoin="round"/>
<path d="M406.96 527.07V539.03M403.76 527.07h6.4M403.76 539.03h6.4" stroke="#e01a2a" stroke-width="1.1" fill="none"/>
<path d="M426.29 479.23V497.17M423.09 479.23h6.4M423.09 497.17h6.4" stroke="#e01a2a" stroke-width="1.1" fill="none"/>
<path d="M464.94 409.86V417.04M461.74 409.86h6.4M461.74 417.04h6.4" stroke="#e01a2a" stroke-width="1.1" fill="none"/>
<path d="M532.58 376.07V391.02M529.38 376.07h6.4M529.38 391.02h6.4" stroke="#e01a2a" stroke-width="1.1" fill="none"/>
<path d="M667.86 371.59V383.55M664.66 371.59h6.4M664.66 383.55h6.4" stroke="#e01a2a" stroke-width="1.1" fill="none"/>
<circle cx="406.96" cy="533.05" r="3.1" fill="#e01a2a"/>
<circle cx="406.36" cy="531.95" r="0.9" fill="#fff" opacity="0.85"/>
<circle cx="426.29" cy="488.2" r="3.1" fill="#e01a2a"/>
<circle cx="425.69" cy="487.1" r="0.9" fill="#fff" opacity="0.85"/>
<circle cx="464.94" cy="413.45" r="3.1" fill="#e01a2a"/>
<circle cx="464.34" cy="412.35" r="0.9" fill="#fff" opacity="0.85"/>
<circle cx="532.58" cy="383.55" r="3.1" fill="#e01a2a"/>
<circle cx="531.98" cy="382.45" r="0.9" fill="#fff" opacity="0.85"/>
<circle cx="667.86" cy="377.57" r="3.1" fill="#e01a2a"/>
<circle cx="667.26" cy="376.47" r="0.9" fill="#fff" opacity="0.85"/>
<path d="M406.96 497.17V506.14M403.76 497.17h6.4M403.76 506.14h6.4" stroke="#2a9a8c" stroke-width="1.1" fill="none"/>
<path d="M426.29 438.87V447.83M423.09 438.87h6.4M423.09 447.83h6.4" stroke="#2a9a8c" stroke-width="1.1" fill="none"/>
<path d="M464.94 361.12V382.05M461.74 361.12h6.4M461.74 382.05h6.4" stroke="#2a9a8c" stroke-width="1.1" fill="none"/>
<path d="M532.58 340.19V355.14M529.38 340.19h6.4M529.38 355.14h6.4" stroke="#2a9a8c" stroke-width="1.1" fill="none"/>
<path d="M667.86 335.71V353.65M664.66 335.71h6.4M664.66 353.65h6.4" stroke="#2a9a8c" stroke-width="1.1" fill="none"/>
<polygon points="406.96,497.75 410.36,504.25 403.56,504.25" fill="#2a9a8c"/>
<polygon points="426.29,439.45 429.69,445.95 422.89,445.95" fill="#2a9a8c"/>
<polygon points="464.94,367.69 468.34,374.19 461.54,374.19" fill="#2a9a8c"/>
<polygon points="532.58,343.77 535.98,350.27 529.18,350.27" fill="#2a9a8c"/>
<polygon points="667.86,340.78 671.26,347.28 664.46,347.28" fill="#2a9a8c"/>
<path d="M406.96 452.32V464.28M403.76 452.32h6.4M403.76 464.28h6.4" stroke="#1818e0" stroke-width="1.1" fill="none"/>
<path d="M426.29 400V414.94M423.09 400h6.4M423.09 414.94h6.4" stroke="#1818e0" stroke-width="1.1" fill="none"/>
<path d="M464.94 329.73V347.67M461.74 329.73h6.4M461.74 347.67h6.4" stroke="#1818e0" stroke-width="1.1" fill="none"/>
<path d="M532.58 308.8V320.76M529.38 308.8h6.4M529.38 320.76h6.4" stroke="#1818e0" stroke-width="1.1" fill="none"/>
<path d="M667.86 307.3V322.25M664.66 307.3h6.4M664.66 322.25h6.4" stroke="#1818e0" stroke-width="1.1" fill="none"/>
<polygon points="406.96,455.2 410.2,457.55 408.96,461.35 404.96,461.35 403.73,457.55" fill="#1818e0"/>
<polygon points="426.29,404.37 429.52,406.72 428.29,410.52 424.29,410.52 423.06,406.72" fill="#1818e0"/>
<polygon points="464.94,335.6 468.17,337.95 466.94,341.75 462.94,341.75 461.71,337.95" fill="#1818e0"/>
<polygon points="532.58,311.68 535.82,314.03 534.58,317.83 530.58,317.83 529.35,314.03" fill="#1818e0"/>
<polygon points="667.86,311.68 671.1,314.03 669.86,317.83 665.87,317.83 664.63,314.03" fill="#1818e0"/>
<rect x="392.8" y="299.7" width="284.7" height="248.4" fill="none" stroke="#000" stroke-width="2.4"/>
<line x1="397.3" y1="548.1" x2="397.3" y2="555.4" stroke="#000" stroke-width="2.5"/>
<text transform="translate(397.3,569.6) scale(0.82,1)" font-size="14.4" font-weight="normal" fill="#222" text-anchor="middle" stroke="#222" stroke-width="0.35">0</text>
<line x1="411.79" y1="548.1" x2="411.79" y2="552.3" stroke="#000" stroke-width="2.5"/>
<line x1="426.29" y1="548.1" x2="426.29" y2="555.4" stroke="#000" stroke-width="2.5"/>
<text transform="translate(426.29,569.6) scale(0.82,1)" font-size="14.4" font-weight="normal" fill="#222" text-anchor="middle" stroke="#222" stroke-width="0.35">3</text>
<line x1="440.78" y1="548.1" x2="440.78" y2="552.3" stroke="#000" stroke-width="2.5"/>
<line x1="455.28" y1="548.1" x2="455.28" y2="555.4" stroke="#000" stroke-width="2.5"/>
<text transform="translate(455.28,569.6) scale(0.82,1)" font-size="14.4" font-weight="normal" fill="#222" text-anchor="middle" stroke="#222" stroke-width="0.35">6</text>
<line x1="469.77" y1="548.1" x2="469.77" y2="552.3" stroke="#000" stroke-width="2.5"/>
<line x1="484.27" y1="548.1" x2="484.27" y2="555.4" stroke="#000" stroke-width="2.5"/>
<text transform="translate(484.27,569.6) scale(0.82,1)" font-size="14.4" font-weight="normal" fill="#222" text-anchor="middle" stroke="#222" stroke-width="0.35">9</text>
<line x1="498.76" y1="548.1" x2="498.76" y2="552.3" stroke="#000" stroke-width="2.5"/>
<line x1="513.26" y1="548.1" x2="513.26" y2="555.4" stroke="#000" stroke-width="2.5"/>
<text transform="translate(513.26,569.6) scale(0.82,1)" font-size="14.4" font-weight="normal" fill="#222" text-anchor="middle" stroke="#222" stroke-width="0.35">12</text>
<line x1="527.75" y1="548.1" x2="527.75" y2="552.3" stroke="#000" stroke-width="2.5"/>
<line x1="542.25" y1="548.1" x2="542.25" y2="555.4" stroke="#000" stroke-width="2.5"/>
<text transform="translate(542.25,569.6) scale(0.82,1)" font-size="14.4" font-weight="normal" fill="#222" text-anchor="middle" stroke="#222" stroke-width="0.35">15</text>
<line x1="556.74" y1="548.1" x2="556.74" y2="552.3" stroke="#000" stroke-width="2.5"/>
<line x1="571.23" y1="548.1" x2="571.23" y2="555.4" stroke="#000" stroke-width="2.5"/>
<text transform="translate(571.23,569.6) scale(0.82,1)" font-size="14.4" font-weight="normal" fill="#222" text-anchor="middle" stroke="#222" stroke-width="0.35">18</text>
<line x1="585.73" y1="548.1" x2="585.73" y2="552.3" stroke="#000" stroke-width="2.5"/>
<line x1="600.22" y1="548.1" x2="600.22" y2="555.4" stroke="#000" stroke-width="2.5"/>
<text transform="translate(600.22,569.6) scale(0.82,1)" font-size="14.4" font-weight="normal" fill="#222" text-anchor="middle" stroke="#222" stroke-width="0.35">21</text>
<line x1="614.72" y1="548.1" x2="614.72" y2="552.3" stroke="#000" stroke-width="2.5"/>
<line x1="629.21" y1="548.1" x2="629.21" y2="555.4" stroke="#000" stroke-width="2.5"/>
<text transform="translate(629.21,569.6) scale(0.82,1)" font-size="14.4" font-weight="normal" fill="#222" text-anchor="middle" stroke="#222" stroke-width="0.35">24</text>
<line x1="643.71" y1="548.1" x2="643.71" y2="552.3" stroke="#000" stroke-width="2.5"/>
<line x1="658.2" y1="548.1" x2="658.2" y2="555.4" stroke="#000" stroke-width="2.5"/>
<text transform="translate(658.2,569.6) scale(0.82,1)" font-size="14.4" font-weight="normal" fill="#222" text-anchor="middle" stroke="#222" stroke-width="0.35">27</text>
<line x1="672.7" y1="548.1" x2="672.7" y2="552.3" stroke="#000" stroke-width="2.5"/>
<line x1="385.8" y1="548" x2="392.8" y2="548" stroke="#000" stroke-width="2.5"/>
<text transform="translate(383.4,551.6) scale(0.82,1)" font-size="14.8" font-weight="normal" fill="#222" text-anchor="end" stroke="#222" stroke-width="0.35">60</text>
<line x1="388.6" y1="533.05" x2="392.8" y2="533.05" stroke="#000" stroke-width="2.5"/>
<line x1="385.8" y1="518.1" x2="392.8" y2="518.1" stroke="#000" stroke-width="2.5"/>
<text transform="translate(383.4,521.7) scale(0.82,1)" font-size="14.8" font-weight="normal" fill="#222" text-anchor="end" stroke="#222" stroke-width="0.35">70</text>
<line x1="388.6" y1="503.15" x2="392.8" y2="503.15" stroke="#000" stroke-width="2.5"/>
<line x1="385.8" y1="488.2" x2="392.8" y2="488.2" stroke="#000" stroke-width="2.5"/>
<text transform="translate(383.4,491.8) scale(0.82,1)" font-size="14.8" font-weight="normal" fill="#222" text-anchor="end" stroke="#222" stroke-width="0.35">80</text>
<line x1="388.6" y1="473.25" x2="392.8" y2="473.25" stroke="#000" stroke-width="2.5"/>
<line x1="385.8" y1="458.3" x2="392.8" y2="458.3" stroke="#000" stroke-width="2.5"/>
<text transform="translate(383.4,461.9) scale(0.82,1)" font-size="14.8" font-weight="normal" fill="#222" text-anchor="end" stroke="#222" stroke-width="0.35">90</text>
<line x1="388.6" y1="443.35" x2="392.8" y2="443.35" stroke="#000" stroke-width="2.5"/>
<line x1="385.8" y1="428.4" x2="392.8" y2="428.4" stroke="#000" stroke-width="2.5"/>
<text transform="translate(383.4,432) scale(0.82,1)" font-size="14.8" font-weight="normal" fill="#222" text-anchor="end" stroke="#222" stroke-width="0.35">100</text>
<line x1="388.6" y1="413.45" x2="392.8" y2="413.45" stroke="#000" stroke-width="2.5"/>
<line x1="385.8" y1="398.5" x2="392.8" y2="398.5" stroke="#000" stroke-width="2.5"/>
<text transform="translate(383.4,402.1) scale(0.82,1)" font-size="14.8" font-weight="normal" fill="#222" text-anchor="end" stroke="#222" stroke-width="0.35">110</text>
<line x1="388.6" y1="383.55" x2="392.8" y2="383.55" stroke="#000" stroke-width="2.5"/>
<line x1="385.8" y1="368.6" x2="392.8" y2="368.6" stroke="#000" stroke-width="2.5"/>
<text transform="translate(383.4,372.2) scale(0.82,1)" font-size="14.8" font-weight="normal" fill="#222" text-anchor="end" stroke="#222" stroke-width="0.35">120</text>
<line x1="388.6" y1="353.65" x2="392.8" y2="353.65" stroke="#000" stroke-width="2.5"/>
<line x1="385.8" y1="338.7" x2="392.8" y2="338.7" stroke="#000" stroke-width="2.5"/>
<text transform="translate(383.4,342.3) scale(0.82,1)" font-size="14.8" font-weight="normal" fill="#222" text-anchor="end" stroke="#222" stroke-width="0.35">130</text>
<line x1="388.6" y1="323.75" x2="392.8" y2="323.75" stroke="#000" stroke-width="2.5"/>
<line x1="385.8" y1="308.8" x2="392.8" y2="308.8" stroke="#000" stroke-width="2.5"/>
<text transform="translate(383.4,312.4) scale(0.82,1)" font-size="14.8" font-weight="normal" fill="#222" text-anchor="end" stroke="#222" stroke-width="0.35">140</text>
<text transform="translate(470.6,590.5) scale(1,1)" font-size="13.6" font-weight="bold" fill="#1a1a1a" text-anchor="start" textLength="126.1" lengthAdjust="spacingAndGlyphs" stroke="#1a1a1a" stroke-width="0.2">Immersion time (days)</text>
<text transform="translate(357.8,504.4) scale(0.88,1) rotate(-90)" font-size="13.6" font-weight="bold" fill="#1a1a1a" text-anchor="start" textLength="158.8" lengthAdjust="spacingAndGlyphs" stroke="#1a1a1a" stroke-width="0.2">Sr concentration (ppm)</text>
<text transform="translate(399,321.8) scale(1,1)" font-size="18" font-weight="bold" fill="#111" text-anchor="start" textLength="18.2" lengthAdjust="spacingAndGlyphs" stroke="#111" stroke-width="0.45">(d)</text>
<rect x="600.1" y="415.4" width="63.4" height="55.7" fill="#000"/>
<rect x="596.8" y="412.1" width="63.4" height="55.7" fill="#fff" stroke="#aaa" stroke-width="0.8"/>
<line x1="598.4" y1="427.5" x2="623.9" y2="427.5" stroke="#e01a2a" stroke-width="1.5"/>
<circle cx="611.2" cy="427.5" r="3.1" fill="#e01a2a"/>
<circle cx="610.6" cy="426.4" r="0.9" fill="#fff" opacity="0.85"/>
<text transform="translate(627.7,431.8) scale(1,1)" font-size="12.5" font-weight="bold" fill="#e01a2a" text-anchor="start" textLength="27.8" lengthAdjust="spacingAndGlyphs" stroke="#e01a2a" stroke-width="0.25">W1Sr</text>
<line x1="598.4" y1="443.6" x2="623.9" y2="443.6" stroke="#6cc0b0" stroke-width="1.5"/>
<polygon points="611.2,439.7 614.6,446.2 607.8,446.2" fill="#6cc0b0"/>
<text transform="translate(627.7,447.9) scale(1,1)" font-size="12.5" font-weight="bold" fill="#2a9a8c" text-anchor="start" textLength="27.8" lengthAdjust="spacingAndGlyphs" stroke="#2a9a8c" stroke-width="0.25">W2Sr</text>
<line x1="598.4" y1="460.4" x2="623.9" y2="460.4" stroke="#1818e0" stroke-width="1.5"/>
<polygon points="611.2,457.3 614.43,459.65 613.2,463.45 609.2,463.45 607.97,459.65" fill="#1818e0"/>
<text transform="translate(627.7,464.7) scale(1,1)" font-size="12.5" font-weight="bold" fill="#1818e0" text-anchor="start" textLength="27.8" lengthAdjust="spacingAndGlyphs" stroke="#1818e0" stroke-width="0.25">W3Sr</text>
</svg>
</body></html>
